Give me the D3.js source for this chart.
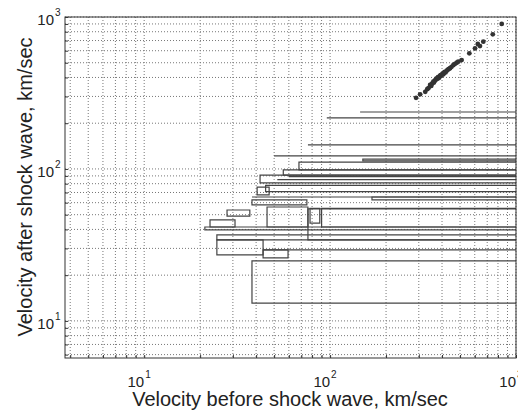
<!DOCTYPE html>
<html>
<head>
<meta charset="utf-8">
<script src="https://cdn.jsdelivr.net/npm/d3@7"></script>
<style>
body { margin:0; background:#fff; }
text { font-family: "Liberation Sans", Arial, sans-serif; fill:#222; }
</style>
</head>
<body>
<div class="chart"></div>
<script>
// intervals: left start, right end, upper and lower velocity (km/sec)
const boxStart  = [145, 96, 76, 50, 150, 68, 56, 42, 52, 60, 40.5, 45, 168, 38, 38, 27.9, 45.8, 76, 78, 90, 22.6, 21.2, 24.6, 24.6, 43.6, 43.6, 38];
const boxEnd    = [1000,1000,1000,1000,1000,1000,1000,1000,1000,1000, 47, 1000,1000,1000, 75, 37, 76, 1000, 88, 1000, 30.8, 1000, 1000, 43.6, 59.4, 1000, 1000];
const boxTop    = [237, 217, 144, 122, 116, 111, 98.5, 91, 85, 89, 76, 78, 65.4, 65.4, 62.5, 53.7, 56.2, 54.6, 55, 55, 46.2, 41.5, 36.8, 34.1, 29.3, 29.3, 24.8];
const boxBottom = [237, 217, 144, 122, 113, 98.5, 91, 81, 85, 89, 67.5, 71, 62.5, 65.4, 58, 49, 41.5, 34.1, 44, 41.5, 41.5, 39.7, 34.1, 27.2, 26, 29.3, 13.1];

// measured points
const dotX = [290,305,325,333,338,345,350,352,355,359,362,365,368,372,374,378,380,383,386,390,393,396,400,403,407,410,414,418,424,430,436,442,450,460,470,480,489,510,561,602,623,640,667,750,838];
const dotY = [294,310,322,335,340,357,352,362,366,375,370,380,384,389,395,392,400,404,398,409,414,410,418,424,420,430,436,432,443,450,456,460,470,482,492,500,508,521,577,622,664,644,688,769,900];

const xMajor = [10, 100, 1000];
const yMajor = [10, 100, 1000];

const margin = {top:17, left:65, bottom:54, right:2};
const width = 518 - margin.left - margin.right;
const height = 412 - margin.top - margin.bottom;

const svg = d3.select('.chart')
    .append('svg')
    .attr('width', width + margin.left + margin.right)
    .attr('height', height + margin.top + margin.bottom)
    .append('g')
    .attr('transform', 'translate('+margin.left+','+margin.top+')');

const xScale = d3.scaleLog().domain([3.75, 1000]).range([0, width]);
const yScale = d3.scaleLog().domain([5.7, 1000]).range([height, 0]);

svg.append('defs').append('clipPath').attr('id','clip')
    .append('rect').attr('width', width).attr('height', height);

// dotted grid at every major and minor tick
svg.append('g').selectAll('line')
    .data(xScale.ticks())
    .enter().append('line')
    .attr('x1', d=>xScale(d)).attr('x2', d=>xScale(d))
    .attr('y1', 0).attr('y2', height)
    .attr('stroke', '#777')
    .attr('stroke-dasharray', '1,2');

svg.append('g').selectAll('line')
    .data(yScale.ticks())
    .enter().append('line')
    .attr('y1', d=>yScale(d)).attr('y2', d=>yScale(d))
    .attr('x1', 0).attr('x2', width)
    .attr('stroke', '#777')
    .attr('stroke-dasharray', '1,2');

const boxes = boxStart.map((s,i)=>({x0:s, x1:boxEnd[i], top:boxTop[i], bottom:boxBottom[i]}));

svg.append('g').attr('clip-path','url(#clip)')
    .selectAll('path')
    .data(boxes)
    .enter().append('path')
    .attr('d', function(d){
        const a = xScale(d.x0), b = xScale(d.x1), t = yScale(d.top), u = yScale(d.bottom);
        if (d.top == d.bottom) return 'M'+a+','+t+'H'+b;
        return 'M'+b+','+t+'H'+a+'V'+u+'H'+b+(d.x1 < 1000 ? 'Z' : '');
    })
    .attr('fill', 'none')
    .attr('stroke', '#444')
    .attr('stroke-width', 1.2);

svg.append('g').selectAll('circle')
    .data(dotX.map((x,i)=>[x, dotY[i]]))
    .enter().append('circle')
    .attr('cx', d=>xScale(d[0]))
    .attr('cy', d=>yScale(d[1]))
    .attr('r', 2.4)
    .attr('fill', '#333');

// frame with small inward ticks
svg.append('rect')
    .attr('width', width).attr('height', height)
    .attr('fill', 'none').attr('stroke', '#333');

const xAxis = d3.axisBottom(xScale).tickValues(xScale.ticks()).tickSizeInner(-3).tickSizeOuter(0).tickFormat('');
const yAxis = d3.axisLeft(yScale).tickValues(yScale.ticks()).tickSizeInner(-3).tickSizeOuter(0).tickFormat('');
svg.append('g').attr('class','x-axis').attr('transform', `translate(0, ${height})`).call(xAxis);
svg.append('g').attr('class','y-axis').call(yAxis);
svg.selectAll('.domain').remove();
svg.selectAll('.tick line').attr('stroke', '#333');

// power-of-ten labels: base ends at the tick, exponent follows
svg.append('g').selectAll('text')
    .data(xMajor)
    .enter().append('text')
    .attr('x', d=>xScale(d))
    .attr('y', height + 29)
    .attr('text-anchor', 'end')
    .style('font-size', '15px')
    .text('10');
svg.append('g').selectAll('text')
    .data(xMajor)
    .enter().append('text')
    .attr('x', d=>xScale(d) + 1)
    .attr('y', height + 20)
    .style('font-size', '10px')
    .text(d=>Math.round(Math.log10(d)));

svg.append('g').selectAll('text')
    .data(yMajor)
    .enter().append('text')
    .attr('x', -11)
    .attr('y', d=>yScale(d) + 8)
    .attr('text-anchor', 'end')
    .style('font-size', '15px')
    .text('10');
svg.append('g').selectAll('text')
    .data(yMajor)
    .enter().append('text')
    .attr('x', -10)
    .attr('y', d=>yScale(d) - 1)
    .style('font-size', '10px')
    .text(d=>Math.round(Math.log10(d)));

svg.append('text')
    .attr('x', 225)
    .attr('y', height + 48)
    .attr('text-anchor', 'middle')
    .style('font-size', '20px')
    .text('Velocity before shock wave, km/sec');

svg.append('text')
    .attr('transform', 'translate(-33,' + (170) + ') rotate(-90)')
    .attr('text-anchor', 'middle')
    .style('font-size', '20px')
    .text('Velocity after shock wave, km/sec');
</script>
</body>
</html>
